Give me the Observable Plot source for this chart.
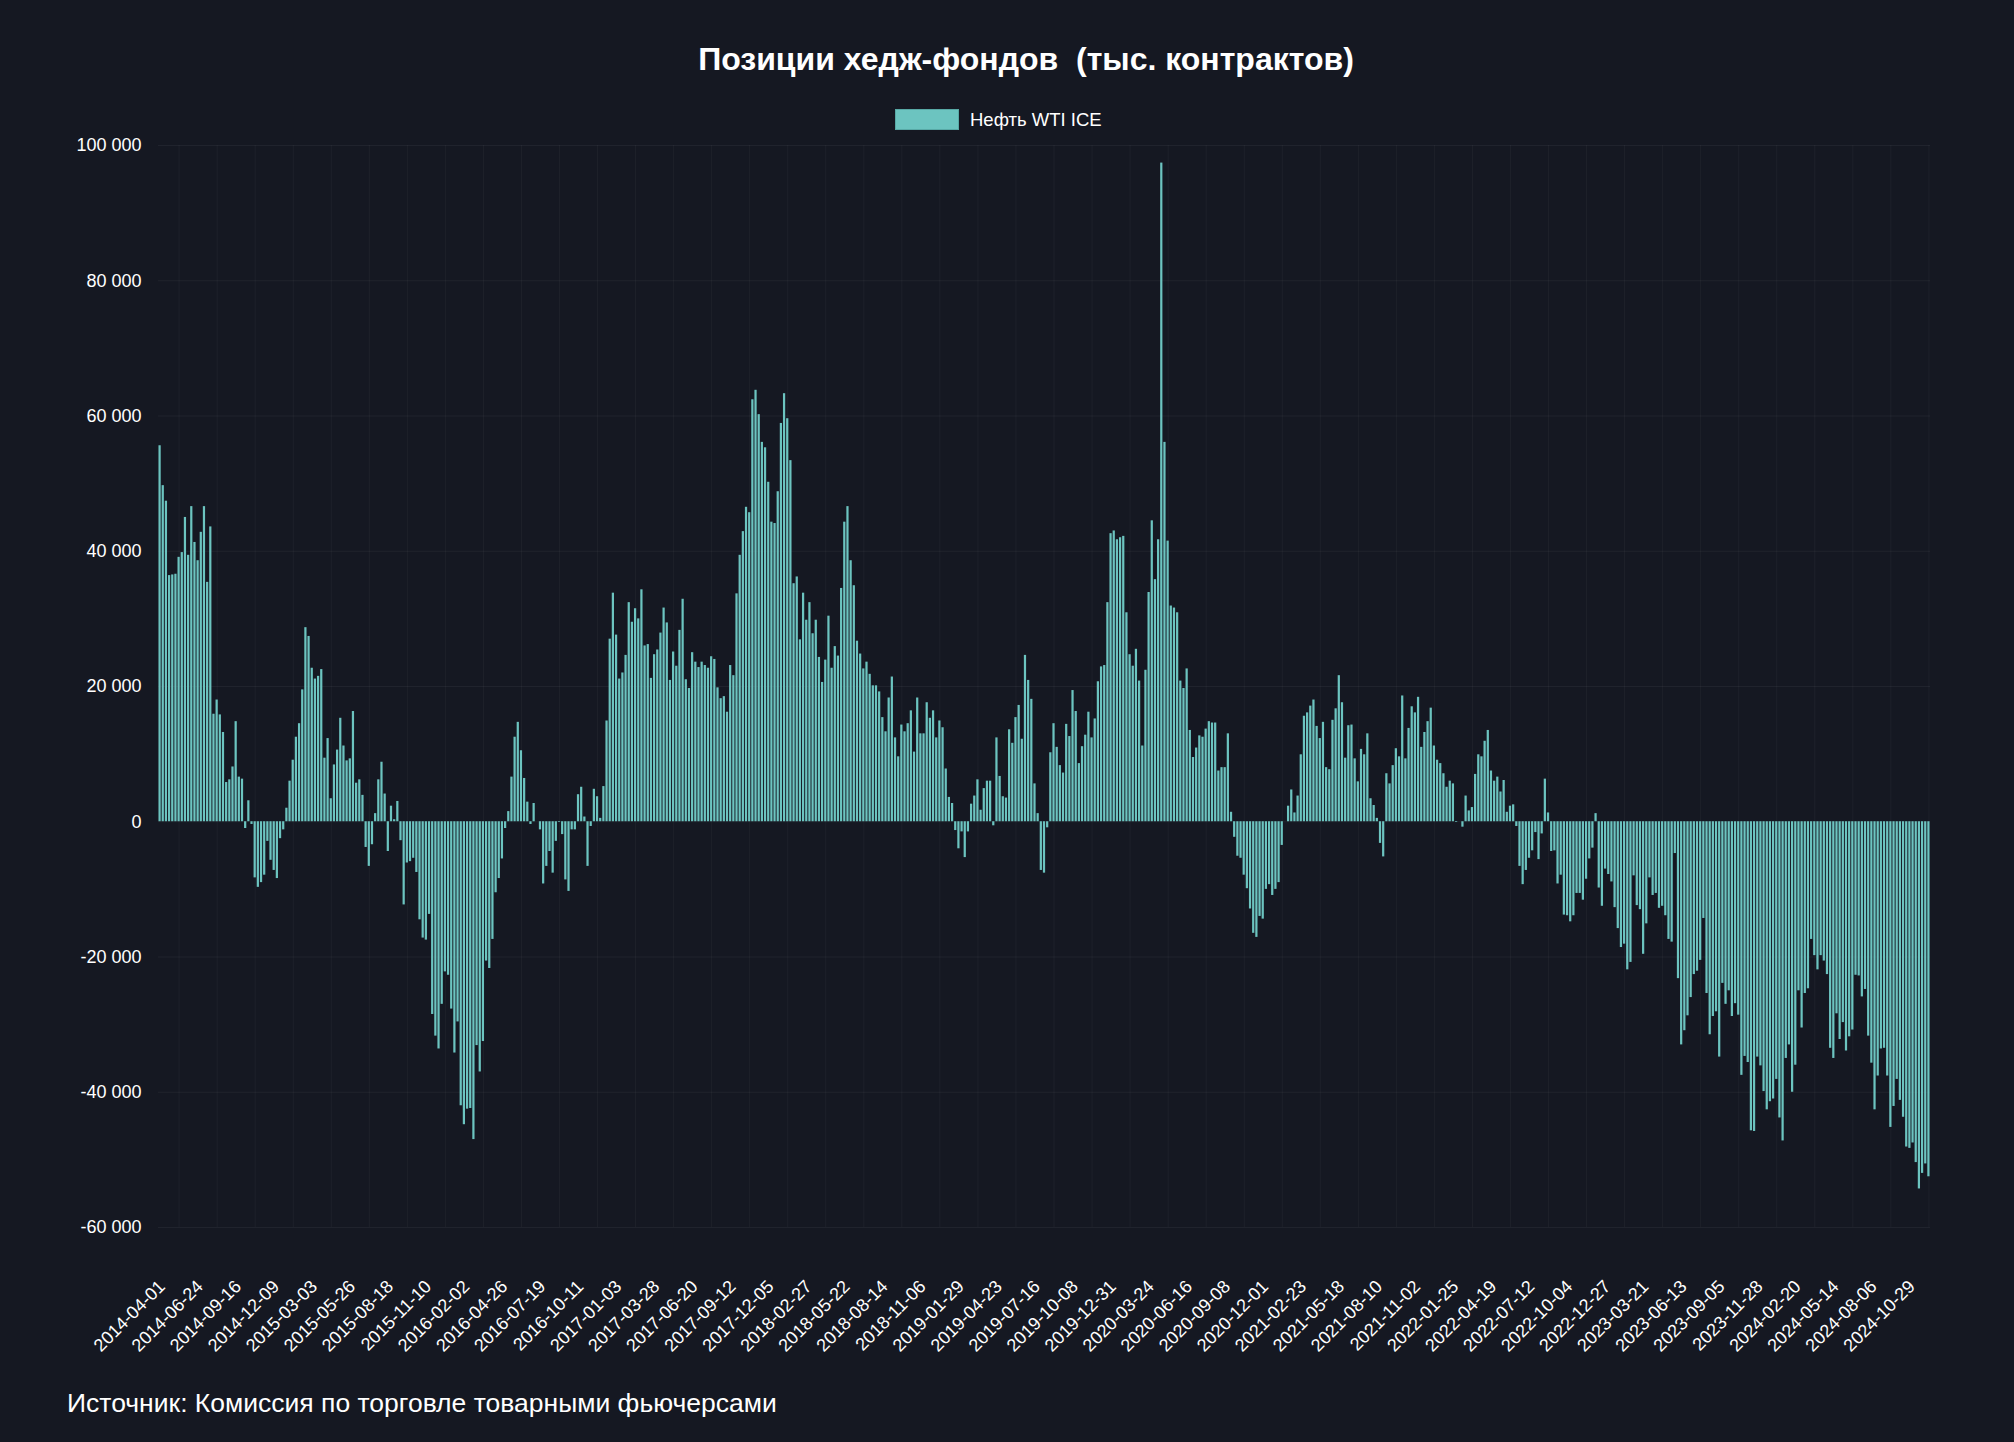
<!DOCTYPE html>
<html>
<head>
<meta charset="utf-8">
<script src="https://cdn.jsdelivr.net/npm/d3@7"></script>
<script src="https://cdn.jsdelivr.net/npm/@observablehq/plot@0.6"></script>
<style>
html, body { margin: 0; padding: 0; background: #151822; }
body { width: 2014px; height: 1442px; position: relative; overflow: hidden;
  font-family: "Liberation Sans", Arial, Helvetica, sans-serif; color: #fff; }
#title { position: absolute; top: 40px; left: 1026px; transform: translateX(-50%);
  font-size: 32px; line-height: 38px; font-weight: bold; white-space: pre; }
#legend { position: absolute; top: 109px; left: 895px; display: flex; align-items: center;
  font-size: 18.5px; line-height: 21px; }
#legend .sw { width: 62px; height: 19px; background: #6cc4c0; border: 1px solid #58a9a6; margin-right: 11px; }
#chart { position: absolute; top: 130px; left: 0; }
#footer { position: absolute; left: 67px; top: 1388px; font-size: 26.5px; line-height: 30px; }
</style>
</head>
<body>
<div id="title">Позиции хедж-фондов  (тыс. контрактов)</div>
<div id="legend"><div class="sw"></div><span>Нефть WTI ICE</span></div>
<div id="chart"></div>
<div id="footer">Источник: Комиссия по торговле товарными фьючерсами</div>
<script>
// Weekly net positions, first report 2014-04-01
const firstDate = "2014-04-01";
const netPositions = [
  55600, 49700, 47400, 36400, 36500, 36600, 39100, 39800, 45000, 39400,
  46600, 41300, 38600, 42800, 46600, 35400, 43600, 15900, 18000, 15800,
  13200, 5800, 6200, 8100, 14800, 6600, 6300, -1000, 3100, -400,
  -8300, -9700, -9000, -7900, -2900, -5700, -7200, -8400, -2500, -1200,
  2000, 6000, 9100, 12500, 14500, 19500, 28700, 27400, 22700, 21100,
  21500, 22500, 9400, 12300, 3400, 8400, 10600, 15300, 11200, 9000,
  9300, 16300, 5700, 6200, 3900, -3800, -6600, -3400, 1200, 6200,
  8800, 4100, -4400, 2300, 300, 3000, -2800, -12300, -6100, -5900,
  -5400, -7500, -14500, -17200, -17500, -13700, -28500, -31700, -33600, -27000,
  -22200, -22700, -27700, -34200, -29600, -42000, -44800, -42500, -42400, -47000,
  -33100, -37000, -32500, -20600, -21700, -17400, -10500, -8400, -5500, -1000,
  1500, 6600, 12500, 14700, 10500, 6400, 2900, -400, 2700, 0,
  -1200, -9200, -6600, -4400, -7600, -2900, -100, -1900, -8600, -10300,
  -1200, -1200, 4000, 5100, 700, -6600, -700, 4800, 3700, 500,
  5200, 14900, 27000, 33800, 27600, 21100, 22000, 24600, 32400, 29500,
  31500, 30000, 34300, 26000, 26200, 21200, 24700, 25400, 27900, 31600,
  29400, 20900, 25100, 23000, 28300, 32900, 21000, 19700, 25000, 23600,
  22800, 23600, 23100, 22700, 24400, 24000, 19800, 18200, 18500, 16200,
  23100, 21600, 33700, 39400, 42900, 46500, 45700, 62400, 63800, 60200,
  56100, 55300, 50200, 44300, 44100, 48800, 58900, 63300, 59600, 53400,
  35200, 36200, 26900, 33800, 29800, 32400, 27800, 29800, 24300, 20600,
  23900, 30400, 22700, 25900, 24500, 34500, 44300, 46600, 38600, 34900,
  26700, 24800, 22600, 23600, 21800, 20100, 20100, 19200, 15400, 13300,
  18300, 21400, 12400, 9600, 14300, 13300, 14500, 16400, 10300, 18300,
  13000, 13000, 17600, 15300, 16400, 12400, 14900, 13900, 7800, 3600,
  2700, -1300, -4000, -1500, -5300, -1500, 2600, 3800, 6200, 1700,
  4900, 6000, 6000, -600, 12400, 6700, 3700, 3500, 13600, 11600,
  15400, 17200, 12200, 24600, 20900, 18100, 5600, 1200, -7200, -7600,
  -900, 10200, 14500, 11000, 8300, 7200, 14400, 12600, 19400, 16300,
  8600, 11100, 12800, 16200, 12400, 15200, 20700, 22900, 23100, 32400,
  42600, 43000, 41700, 42000, 42200, 30900, 24700, 23000, 25500, 20800,
  11200, 22400, 33900, 44500, 35800, 41700, 97400, 56100, 41500, 31900,
  31600, 30900, 20800, 19700, 22600, 13500, 9500, 10900, 12700, 12500,
  13700, 14800, 14600, 14600, 7500, 8000, 8000, 13000, 1400, -2300,
  -5100, -5400, -7900, -9900, -12900, -16500, -17100, -14000, -14400, -10000,
  -9300, -10900, -10000, -9000, -3500, 0, 2300, 4700, 1300, 3800,
  9900, 15600, 16100, 17100, 18000, 14100, 12300, 14700, 8000, 7700,
  15000, 16700, 21600, 17600, 9400, 14200, 14300, 9300, 5900, 10700,
  9900, 13000, 3400, 2400, 500, -3200, -5200, 7100, 5600, 8300,
  10800, 9600, 18600, 9300, 13800, 17000, 16100, 18400, 11000, 13200,
  14800, 16800, 11200, 9100, 8600, 7100, 5100, 6000, 5600, -100,
  0, -800, 3800, 1600, 2100, 7000, 9900, 9600, 11900, 13500,
  7500, 6000, 6600, 4400, 6100, 1400, 2300, 2500, -700, -6600,
  -9300, -7200, -5400, -4300, -1600, -5600, -1800, 6300, 1300, -4400,
  -4300, -9200, -7900, -13800, -13900, -14800, -13900, -10600, -10600, -11600,
  -8500, -5500, -3900, 1200, -9800, -12500, -7000, -7800, -8900, -12700,
  -15800, -18600, -18100, -21900, -20800, -8000, -12400, -13000, -19600, -15100,
  -8300, -10900, -10600, -12800, -12500, -13900, -17400, -17800, -4700, -23200,
  -33000, -30900, -28700, -26000, -22600, -22100, -20500, -14300, -25400, -31500,
  -28800, -28100, -34800, -23900, -27000, -25000, -28800, -26900, -28600, -37500,
  -34700, -35600, -45700, -45800, -34800, -36100, -39900, -42600, -41400, -41000,
  -38100, -43800, -47200, -35000, -33000, -40000, -36000, -25000, -30500, -25400,
  -24700, -17400, -19800, -21900, -19800, -20600, -22600, -33500, -35000, -28400,
  -32200, -29700, -33900, -31800, -30800, -22700, -22800, -25900, -24800, -31700,
  -35700, -42600, -37600, -33600, -33500, -37600, -45200, -42100, -38100, -41200,
  -43700, -48100, -48300, -47500, -50400, -54300, -52000, -50600, -52500
];
const yTicks = [-60000, -40000, -20000, 0, 20000, 40000, 60000, 80000, 100000];

// Categories: weekly report dates
const fmtDate = d3.utcFormat("%Y-%m-%d");
const start = d3.utcParse("%Y-%m-%d")(firstDate);
const categories = netPositions.map((_, i) => fmtDate(d3.utcDay.offset(start, 7 * i)));
const tickLabels = categories.filter((_, i) => i % 12 === 0);
const gridCats = categories.filter((_, i) => i % 12 === 6);

const table = categories.map((date, i) => ({date, value: netPositions[i]}));

const ru = d3.formatLocale({decimal: ",", thousands: "\u00a0", grouping: [3], currency: ["", ""], minus: "-"});
const fmtNum = ru.format(",");

const chart = Plot.plot({
  width: 2014,
  height: 1230,
  marginTop: 15,
  marginBottom: 133,
  marginLeft: 158,
  marginRight: 84,
  style: {background: "transparent", color: "#ffffff", fontFamily: "'Liberation Sans', Arial, Helvetica, sans-serif"},
  x: {type: "band", domain: categories, paddingInner: 0.3, paddingOuter: 0.15, axis: null, label: null},
  y: {domain: [-60000, 100000], axis: null, label: null},
  marks: [
    Plot.gridY(yTicks, {stroke: "#ffffff", strokeOpacity: 0.05}),
    Plot.gridX(gridCats, {stroke: "#ffffff", strokeOpacity: 0.04}),
    Plot.barY(table, {x: "date", y: "value", fill: "#6cc4c0"}),
    Plot.axisY(yTicks, {tickSize: 0, tickPadding: 17, fontSize: 18, tickFormat: fmtNum, label: null}),
    Plot.axisX(tickLabels, {tickSize: 0, tickRotate: -45, tickPadding: 56, fontSize: 18, dx: 2, label: null})
  ]
});
document.getElementById("chart").appendChild(chart);
</script>
</body>
</html>
